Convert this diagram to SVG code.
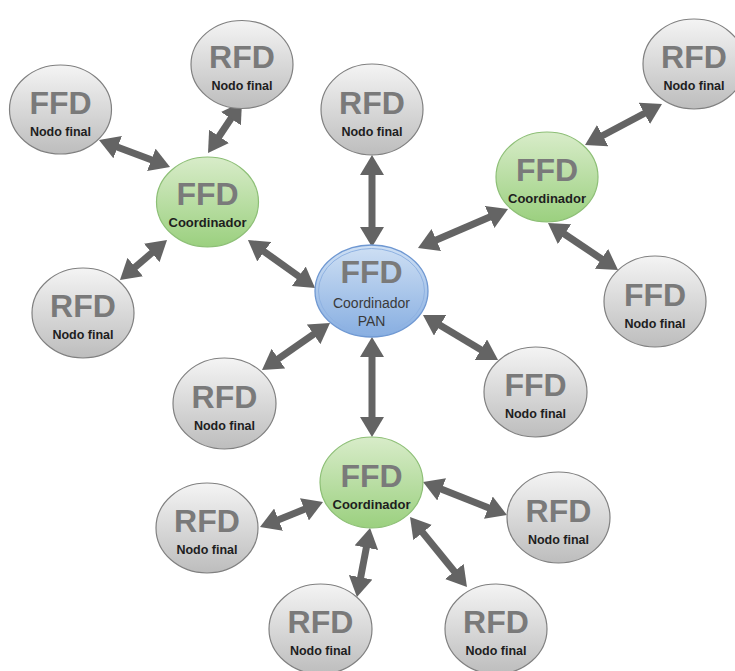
<svg xmlns="http://www.w3.org/2000/svg" width="735" height="671" viewBox="0 0 735 671">
  <style>
    .gray { fill: url(#gGray); stroke: #808080; stroke-width: 1.2; }
    .green { fill: url(#gGreen); stroke: #8dbf76; stroke-width: 1.2; }
    .big { font-family: "Liberation Sans", Arial, sans-serif; font-weight: bold; font-size: 32px; fill: #7a7a7a; text-anchor: middle; }
    .small { font-family: "Liberation Sans", Arial, sans-serif; font-weight: bold; font-size: 12.5px; fill: #1e1e1e; text-anchor: middle; }
    .coord { font-family: "Liberation Sans", Arial, sans-serif; font-weight: bold; font-size: 13px; fill: #1e1e1e; text-anchor: middle; }
    .pan { font-family: "Liberation Sans", Arial, sans-serif; font-size: 14px; fill: #3a3a3a; text-anchor: middle; }
    .link { stroke: #646464; stroke-width: 7; fill: none; marker-start: url(#head); marker-end: url(#head); }
  </style>
  <defs>
    <linearGradient id="gGray" x1="0" y1="0" x2="0" y2="1">
      <stop offset="0" stop-color="#f4f4f4"/>
      <stop offset="1" stop-color="#bdbdbd"/>
    </linearGradient>
    <linearGradient id="gGreen" x1="0" y1="0" x2="0" y2="1">
      <stop offset="0" stop-color="#d8ecc9"/>
      <stop offset="1" stop-color="#9bd07f"/>
    </linearGradient>
    <linearGradient id="gBlue" x1="0" y1="0" x2="0" y2="1">
      <stop offset="0" stop-color="#cfe0f4"/>
      <stop offset="1" stop-color="#87aee1"/>
    </linearGradient>
    <marker id="head" viewBox="0 -12 20 24" refX="2" refY="0" markerWidth="20" markerHeight="24" markerUnits="userSpaceOnUse" orient="auto-start-reverse">
      <path d="M0,-12 L20,0 L0,12 Z" fill="#646464"/>
    </marker>
  </defs>

  <!-- connectors: two-way links, trimmed so the heads land on the node rims -->
  <g id="connectors">
    <line class="link" x1="115.8" y1="146.4" x2="153.2" y2="160.6"/>
    <line class="link" x1="232" y1="117" x2="218" y2="138"/>
    <line class="link" x1="133.7" y1="268.3" x2="153.3" y2="251.7"/>
    <line class="link" x1="262.6" y1="250.5" x2="300.4" y2="277.5"/>
    <line class="link" x1="372" y1="173" x2="372" y2="229"/>
    <line class="link" x1="434.5" y1="240.8" x2="491.5" y2="216.2"/>
    <line class="link" x1="600.9" y1="136.5" x2="646.1" y2="112.5"/>
    <line class="link" x1="562.9" y1="233" x2="603.1" y2="260"/>
    <line class="link" x1="315.2" y1="333.2" x2="276.8" y2="359.8"/>
    <line class="link" x1="438.4" y1="324.3" x2="482.6" y2="350.7"/>
    <line class="link" x1="372" y1="355" x2="372" y2="419"/>
    <line class="link" x1="306.3" y1="508.6" x2="276.7" y2="520.4"/>
    <line class="link" x1="366.7" y1="545.7" x2="360.3" y2="579.3"/>
    <line class="link" x1="439.8" y1="488.6" x2="490.2" y2="508.4"/>
    <line class="link" x1="421.4" y1="531" x2="455.6" y2="573"/>
  </g>

  <!-- PAN coordinator -->
  <g id="pan">
    <ellipse cx="371.5" cy="291" rx="56.5" ry="46" fill="url(#gBlue)" stroke="#6f98d2" stroke-width="1.3"/>
    <ellipse cx="371.5" cy="291" rx="53" ry="42.5" fill="none" stroke="#8fb2e2" stroke-width="1"/>
    <text class="big" x="371.5" y="283">FFD</text>
    <text class="pan" x="371.5" y="308">Coordinador</text>
    <text class="pan" x="371.5" y="325.5">PAN</text>
  </g>

  <!-- coordinators -->
  <g id="coord-nw">
    <ellipse class="green" cx="207.5" cy="202" rx="51" ry="45"/>
    <text class="big" x="207.5" y="205">FFD</text>
    <text class="coord" x="207.5" y="227">Coordinador</text>
  </g>
  <g id="coord-ne">
    <ellipse class="green" cx="547" cy="177" rx="51" ry="45"/>
    <text class="big" x="547" y="181">FFD</text>
    <text class="coord" x="547" y="203">Coordinador</text>
  </g>
  <g id="coord-s">
    <ellipse class="green" cx="371.5" cy="482.5" rx="51.5" ry="45.5"/>
    <text class="big" x="371.5" y="487">FFD</text>
    <text class="coord" x="371.5" y="509">Coordinador</text>
  </g>

  <!-- end devices -->
  <g id="end-1">
    <ellipse class="gray" cx="60.5" cy="109.5" rx="51" ry="44.5"/>
    <text class="big" x="60.5" y="113.5">FFD</text>
    <text class="small" x="60.5" y="135.5">Nodo final</text>
  </g>
  <g id="end-2">
    <ellipse class="gray" cx="242" cy="64.5" rx="51" ry="44"/>
    <text class="big" x="242" y="68">RFD</text>
    <text class="small" x="242" y="90">Nodo final</text>
  </g>
  <g id="end-3">
    <ellipse class="gray" cx="83" cy="313" rx="51" ry="45"/>
    <text class="big" x="83" y="317">RFD</text>
    <text class="small" x="83" y="339">Nodo final</text>
  </g>
  <g id="end-4">
    <ellipse class="gray" cx="372" cy="109.5" rx="51" ry="45.5"/>
    <text class="big" x="372" y="113.5">RFD</text>
    <text class="small" x="372" y="135.5">Nodo final</text>
  </g>
  <g id="end-5">
    <ellipse class="gray" cx="694" cy="64" rx="51" ry="45"/>
    <text class="big" x="694" y="68">RFD</text>
    <text class="small" x="694" y="90">Nodo final</text>
  </g>
  <g id="end-6">
    <ellipse class="gray" cx="655" cy="301.5" rx="51" ry="45.5"/>
    <text class="big" x="655" y="305.5">FFD</text>
    <text class="small" x="655" y="327.5">Nodo final</text>
  </g>
  <g id="end-7">
    <ellipse class="gray" cx="535.5" cy="392" rx="51.5" ry="45"/>
    <text class="big" x="535.5" y="396">FFD</text>
    <text class="small" x="535.5" y="418">Nodo final</text>
  </g>
  <g id="end-8">
    <ellipse class="gray" cx="224.5" cy="403.5" rx="51.5" ry="45.5"/>
    <text class="big" x="224.5" y="407.5">RFD</text>
    <text class="small" x="224.5" y="429.5">Nodo final</text>
  </g>
  <g id="end-9">
    <ellipse class="gray" cx="207" cy="528" rx="51" ry="45"/>
    <text class="big" x="207" y="532">RFD</text>
    <text class="small" x="207" y="554">Nodo final</text>
  </g>
  <g id="end-10">
    <ellipse class="gray" cx="558.5" cy="517.5" rx="51.5" ry="45.5"/>
    <text class="big" x="558.5" y="521.5">RFD</text>
    <text class="small" x="558.5" y="543.5">Nodo final</text>
  </g>
  <g id="end-11">
    <ellipse class="gray" cx="320.5" cy="629" rx="51.5" ry="45"/>
    <text class="big" x="320.5" y="633">RFD</text>
    <text class="small" x="320.5" y="655">Nodo final</text>
  </g>
  <g id="end-12">
    <ellipse class="gray" cx="496" cy="629" rx="51" ry="45"/>
    <text class="big" x="496" y="633">RFD</text>
    <text class="small" x="496" y="655">Nodo final</text>
  </g>
</svg>
